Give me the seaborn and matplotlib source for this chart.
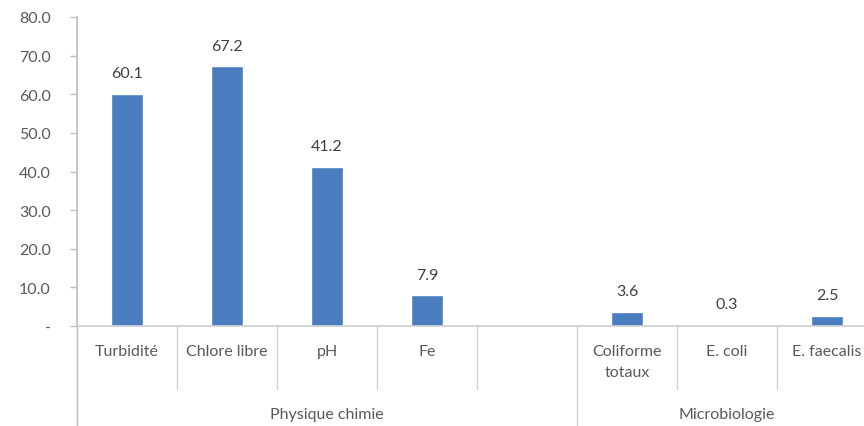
import numpy as np
import pandas as pd
import matplotlib
matplotlib.use("Agg")
import matplotlib.pyplot as plt
import matplotlib.transforms as mtransforms
import seaborn as sns

# Données
categories = ["Turbidité", "Chlore libre", "pH", "Fe", " ",
              "Coliforme\ntotaux", "E. coli", "E. faecalis"]
valeurs = [60.1, 67.2, 41.2, 7.9, np.nan, 3.6, 0.3, 2.5]
groupes = ["Physique chimie", "Microbiologie"]
taille_groupes = [5, 3]
graduations_y = [0, 10, 20, 30, 40, 50, 60, 70, 80]

BLEU = "#4a7dbf"
GRIS_TEXTE = "#595959"
GRIS_LIGNE = "#d0d0d0"
TAILLE = 11.5

sns.set_theme(style="white")
plt.rcParams['font.family'] = ['Lato', 'DejaVu Sans']

df = pd.DataFrame({"categorie": categories, "valeur": valeurs})

fig = plt.figure(figsize=(8.64, 4.27), dpi=100)
ax = fig.add_axes([77 / 864, 1 - 327 / 427, 1 - 77 / 864, (327 - 18) / 427])

sns.barplot(data=df, x="categorie", y="valeur", order=categories,
            color=BLEU, saturation=1, width=0.32, ax=ax, errorbar=None)

# le dernier créneau est coupé par le bord droit de l'image
ax.set_xlim(-0.5, len(categories) - 0.63)
ax.set_ylim(0, 80)
ax.set_yticks(graduations_y)
ax.set_yticklabels(["-" if v == 0 else f"{v:.1f}" for v in graduations_y],
                   color=GRIS_TEXTE, fontsize=TAILLE)
ax.tick_params(axis="y", which="both", left=True, length=5, width=1,
               color="#bfbfbf", pad=14)
ax.set_xticks(range(len(categories)))
ax.set_xticklabels(categories, color=GRIS_TEXTE, fontsize=TAILLE, linespacing=1.6)
ax.tick_params(axis="x", length=0, pad=13)
ax.set_xlabel("")
ax.set_ylabel("")

for cote in ["top", "right"]:
    ax.spines[cote].set_visible(False)
ax.spines["left"].set_color("#bfbfbf")
ax.spines["bottom"].set_color(GRIS_LIGNE)

# Étiquettes de valeurs
for cont in ax.containers:
    ax.bar_label(cont, fmt="%.1f", padding=10, color="#404040", fontsize=TAILLE)

# Séparateurs et libellés de groupes sous l'axe
trans = mtransforms.blended_transform_factory(ax.transData, ax.transAxes)
bords_groupes = np.cumsum([0] + taille_groupes) - 0.5
for i in range(len(categories) + 1):
    x = i - 0.5
    bas = -0.33 if x in bords_groupes else -0.205
    ax.plot([x, x], [0, bas], transform=trans, color=GRIS_LIGNE, lw=1, clip_on=False)
ax.plot([-0.5, -0.5], [0, -0.33], transform=trans, color="#bfbfbf", lw=1, clip_on=False)

for g, (debut, fin) in zip(groupes, zip(bords_groupes[:-1], bords_groupes[1:])):
    ax.text((debut + fin) / 2, -0.285, g, transform=trans, ha="center", va="center",
            color=GRIS_TEXTE, fontsize=TAILLE)

fig.savefig("out.png", dpi=100)
